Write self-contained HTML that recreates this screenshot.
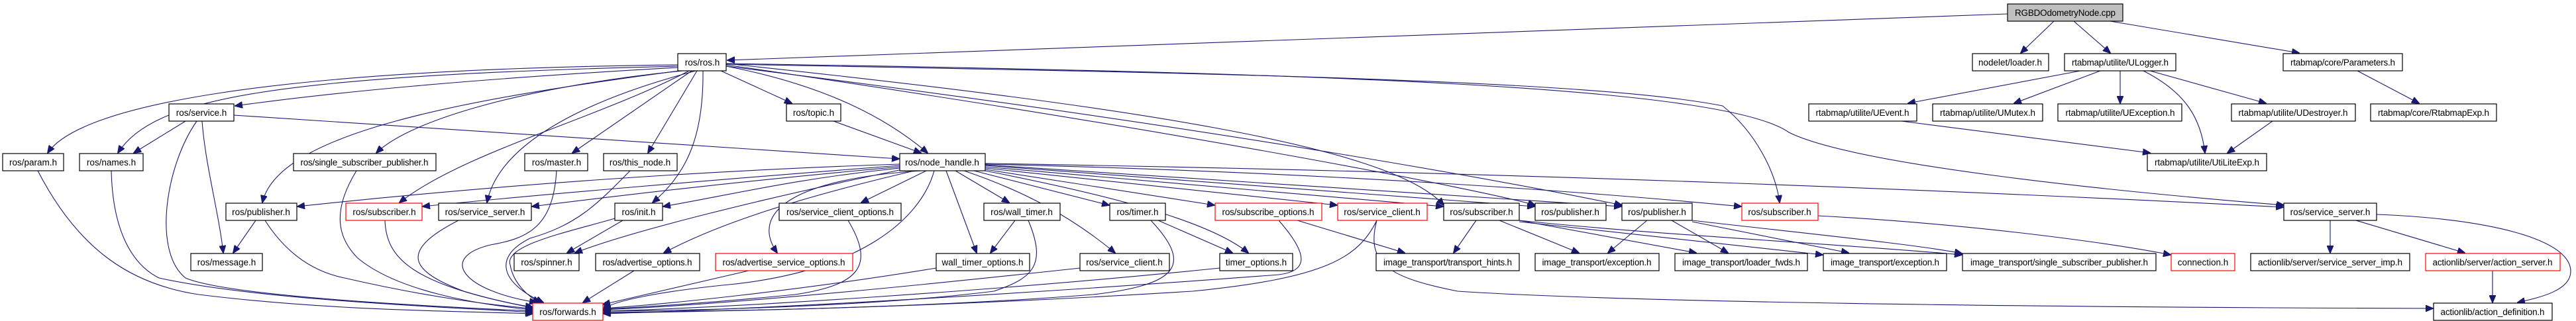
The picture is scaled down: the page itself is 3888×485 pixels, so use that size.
<!DOCTYPE html>
<html><head><meta charset="utf-8"><style>
html,body{margin:0;padding:0;background:#fff;}
svg{display:block;}
text{font-family:"Liberation Sans",Arial,sans-serif;font-size:13.5px;fill:#000;text-anchor:middle;}
.n rect{fill:#fff;stroke:#000;stroke-width:1.2;}
.r rect{fill:#fff;stroke:#ff0000;stroke-width:1.2;}
.e path{fill:none;stroke:#191970;stroke-width:1.1;marker-end:url(#a);}
</style></head><body>
<svg width="3888" height="485" viewBox="0 0 3888 485" xmlns="http://www.w3.org/2000/svg">
<defs><marker id="a" markerUnits="userSpaceOnUse" markerWidth="12" markerHeight="10" refX="11" refY="5" orient="auto"><path d="M0,0 L12,5 L0,10 z" fill="#191970" stroke="#191970"/></marker></defs>
<g class="e">
<path d="M3030 21 L1098 91"/>
<path d="M3100 32 L3050 80"/>
<path d="M3130 32 L3185 80"/>
<path d="M3185 32 L3470 80"/>
<path d="M3140 107 L2880 156"/>
<path d="M3170 107 L3040 156"/>
<path d="M3200 107 L3200 156"/>
<path d="M3235 107 C3300 140 3322 180 3328 231"/>
<path d="M3245 107 L3420 156"/>
<path d="M2870 183 L3245 231"/>
<path d="M3430 183 L3362 231"/>
<path d="M3558 107 L3651 156"/>
<path d="M1023 98 C400 105 120 160 72 231"/>
<path d="M1023 100 C400 115 230 150 178 231"/>
<path d="M1023 102 C700 120 500 140 355 160"/>
<path d="M1030 107 C800 130 620 180 568 231"/>
<path d="M1025 107 C700 150 420 200 396 306"/>
<path d="M1040 107 C900 180 700 230 603 306"/>
<path d="M1050 107 C850 160 750 230 735 306"/>
<path d="M1044 107 L864 231"/>
<path d="M1052 107 L978 231"/>
<path d="M1061 107 C1062 200 1040 260 985 306"/>
<path d="M1088 107 L1195 156"/>
<path d="M1096 100 C1250 130 1340 180 1400 231"/>
<path d="M1096 96 C1700 160 2100 220 2179 310"/>
<path d="M1096 98 C1800 200 2250 290 2317 310"/>
<path d="M1096 100 C1900 200 2350 290 2448 310"/>
<path d="M1096 97 C1800 110 2400 120 2600 160 C2650 200 2680 260 2686 306"/>
<path d="M1096 96 C2000 110 2600 130 2700 200 C2800 250 3200 290 3447 310"/>
<path d="M280 183 L202 231"/>
<path d="M305 183 C310 250 330 320 337 382"/>
<path d="M297 183 C250 250 230 380 280 420 C350 450 700 465 804 470"/>
<path d="M353 174 L1357 240"/>
<path d="M57 258 C120 380 200 430 300 445 C500 470 700 470 804 474"/>
<path d="M168 258 C170 350 200 400 240 420 C400 455 700 465 804 472"/>
<path d="M538 258 C500 320 510 360 540 390 C600 440 720 460 804 468"/>
<path d="M386 333 L352 382"/>
<path d="M400 333 C430 380 470 410 520 420 C650 450 750 462 804 466"/>
<path d="M581 333 C583 390 620 430 804 465"/>
<path d="M692 333 C600 380 620 410 700 440 C750 455 790 462 804 464"/>
<path d="M840 258 C835 340 800 360 740 370 C660 390 700 440 810 457"/>
<path d="M951 258 C900 310 870 340 800 360 C740 390 760 430 820 457"/>
<path d="M928 330 C860 350 760 370 770 400 C775 430 800 450 815 457"/>
<path d="M940 333 L856 382"/>
<path d="M1258 183 L1390 231"/>
<path d="M1358 248 C1000 260 700 285 449 312"/>
<path d="M1358 250 C1100 270 800 295 638 312"/>
<path d="M1358 252 C1100 275 900 300 803 312"/>
<path d="M1358 254 C1200 270 1100 295 1001 312"/>
<path d="M1362 256 C1150 300 950 350 868 382"/>
<path d="M1380 258 C1200 300 1080 340 1002 382"/>
<path d="M1390 258 C1200 270 1130 320 1173 382"/>
<path d="M1398 258 L1300 306"/>
<path d="M1410 258 C1390 330 1300 410 1100 430 C1000 440 920 455 911 468"/>
<path d="M1428 258 L1474 382"/>
<path d="M1442 258 L1523 306"/>
<path d="M1455 258 C1550 290 1620 330 1683 382"/>
<path d="M1470 258 L1674 310"/>
<path d="M1487 258 C1650 290 1820 330 1884 382"/>
<path d="M1487 256 L1833 310"/>
<path d="M1487 254 L2018 310"/>
<path d="M1487 252 L2178 312"/>
<path d="M1487 250 L2316 312"/>
<path d="M1487 249 L2447 312"/>
<path d="M1487 248 C2000 260 2400 290 2628 312"/>
<path d="M1487 247 C2300 260 3000 290 3446 313"/>
<path d="M957 409 L880 457"/>
<path d="M1130 409 L910 460"/>
<path d="M1280 333 C1320 400 1300 430 1200 445 C1050 460 950 465 911 467"/>
<path d="M1532 333 L1495 382"/>
<path d="M1552 333 C1580 400 1560 420 1500 440 C1300 465 1000 470 911 470"/>
<path d="M1413 405 C1200 440 1000 460 911 466"/>
<path d="M1630 405 C1400 430 1100 460 911 468"/>
<path d="M1737 333 C1800 400 1780 430 1650 445 C1400 465 1100 470 911 472"/>
<path d="M1748 333 L1860 382"/>
<path d="M1841 405 C1500 440 1100 465 911 470"/>
<path d="M1930 333 C1980 390 1970 410 1930 415 C1600 440 1200 465 911 474"/>
<path d="M1958 333 L2120 382"/>
<path d="M2078 333 C2060 400 2100 420 2200 440 C2500 460 3300 465 3672 466"/>
<path d="M2078 333 C2050 390 2000 420 1800 440 C1400 465 1100 470 911 473"/>
<path d="M2228 333 L2194 382"/>
<path d="M2263 333 L2383 382"/>
<path d="M2293 333 L2560 382"/>
<path d="M2293 335 L2751 385"/>
<path d="M2293 333 C2500 355 2800 370 2961 385"/>
<path d="M2486 333 L2427 382"/>
<path d="M2523 333 L2608 382"/>
<path d="M2554 335 L2790 382"/>
<path d="M2554 333 C2700 350 2900 370 2961 383"/>
<path d="M2744 326 C3000 340 3200 370 3276 385"/>
<path d="M3517 333 L3517 382"/>
<path d="M3556 333 L3720 382"/>
<path d="M3587 324 C3750 330 3880 360 3880 410 C3880 440 3830 450 3800 457"/>
<path d="M3762 409 L3762 457"/>
</g>
<g class="n"><rect x="3030" y="6" width="174" height="26" style="fill:#bfbfbf"/><text x="3117" y="24" textLength="152">RGBDOdometryNode.cpp</text></g>
<g class="n"><rect x="1023" y="81" width="73" height="26"/><text x="1060" y="99">ros/ros.h</text></g>
<g class="n"><rect x="2977" y="81" width="115" height="26"/><text x="3034" y="99">nodelet/loader.h</text></g>
<g class="n"><rect x="3116" y="81" width="168" height="26"/><text x="3200" y="99" textLength="146">rtabmap/utilite/ULogger.h</text></g>
<g class="n"><rect x="3446" y="81" width="180" height="26"/><text x="3536" y="99" textLength="158">rtabmap/core/Parameters.h</text></g>
<g class="n"><rect x="255" y="157" width="98" height="26"/><text x="304" y="175">ros/service.h</text></g>
<g class="n"><rect x="1187" y="157" width="82" height="26"/><text x="1228" y="175">ros/topic.h</text></g>
<g class="n"><rect x="2730" y="157" width="163" height="26"/><text x="2811" y="175" textLength="141">rtabmap/utilite/UEvent.h</text></g>
<g class="n"><rect x="2917" y="157" width="166" height="26"/><text x="3000" y="175" textLength="144">rtabmap/utilite/UMutex.h</text></g>
<g class="n"><rect x="3106" y="157" width="187" height="26"/><text x="3200" y="175" textLength="165">rtabmap/utilite/UException.h</text></g>
<g class="n"><rect x="3368" y="157" width="187" height="26"/><text x="3461" y="175" textLength="165">rtabmap/utilite/UDestroyer.h</text></g>
<g class="n"><rect x="3578" y="157" width="190" height="26"/><text x="3673" y="175" textLength="168">rtabmap/core/RtabmapExp.h</text></g>
<g class="n"><rect x="4" y="232" width="92" height="26"/><text x="50" y="250">ros/param.h</text></g>
<g class="n"><rect x="120" y="232" width="96" height="26"/><text x="168" y="250">ros/names.h</text></g>
<g class="n"><rect x="443" y="232" width="215" height="26"/><text x="550" y="250" textLength="193">ros/single_subscriber_publisher.h</text></g>
<g class="n"><rect x="792" y="232" width="95" height="26"/><text x="840" y="250">ros/master.h</text></g>
<g class="n"><rect x="911" y="232" width="111" height="26"/><text x="966" y="250">ros/this_node.h</text></g>
<g class="n"><rect x="1358" y="232" width="129" height="26"/><text x="1422" y="250">ros/node_handle.h</text></g>
<g class="n"><rect x="3241" y="232" width="180" height="26"/><text x="3331" y="250" textLength="158">rtabmap/utilite/UtiLiteExp.h</text></g>
<g class="n"><rect x="341" y="307" width="107" height="26"/><text x="394" y="325">ros/publisher.h</text></g>
<g class="r"><rect x="522" y="307" width="115" height="26"/><text x="580" y="325">ros/subscriber.h</text></g>
<g class="n"><rect x="662" y="307" width="140" height="26"/><text x="732" y="325">ros/service_server.h</text></g>
<g class="n"><rect x="928" y="307" width="72" height="26"/><text x="964" y="325">ros/init.h</text></g>
<g class="n"><rect x="1176" y="307" width="184" height="26"/><text x="1268" y="325" textLength="162">ros/service_client_options.h</text></g>
<g class="n"><rect x="1485" y="307" width="115" height="26"/><text x="1542" y="325">ros/wall_timer.h</text></g>
<g class="n"><rect x="1675" y="307" width="84" height="26"/><text x="1717" y="325">ros/timer.h</text></g>
<g class="r"><rect x="1834" y="307" width="161" height="26"/><text x="1914" y="325" textLength="139">ros/subscribe_options.h</text></g>
<g class="r"><rect x="2019" y="307" width="135" height="26"/><text x="2086" y="325">ros/service_client.h</text></g>
<g class="n"><rect x="2179" y="307" width="114" height="26"/><text x="2236" y="325">ros/subscriber.h</text></g>
<g class="n"><rect x="2317" y="307" width="107" height="26"/><text x="2370" y="325">ros/publisher.h</text></g>
<g class="n"><rect x="2448" y="307" width="106" height="26"/><text x="2501" y="325">ros/publisher.h</text></g>
<g class="r"><rect x="2629" y="307" width="115" height="26"/><text x="2686" y="325">ros/subscriber.h</text></g>
<g class="n"><rect x="3447" y="307" width="140" height="26"/><text x="3517" y="325">ros/service_server.h</text></g>
<g class="n"><rect x="288" y="383" width="108" height="26"/><text x="342" y="401">ros/message.h</text></g>
<g class="n"><rect x="776" y="383" width="98" height="26"/><text x="825" y="401">ros/spinner.h</text></g>
<g class="n"><rect x="899" y="383" width="157" height="26"/><text x="977" y="401" textLength="135">ros/advertise_options.h</text></g>
<g class="r"><rect x="1080" y="383" width="207" height="26"/><text x="1183" y="401" textLength="185">ros/advertise_service_options.h</text></g>
<g class="n"><rect x="1413" y="383" width="141" height="26"/><text x="1483" y="401">wall_timer_options.h</text></g>
<g class="n"><rect x="1630" y="383" width="135" height="26"/><text x="1697" y="401">ros/service_client.h</text></g>
<g class="n"><rect x="1841" y="383" width="110" height="26"/><text x="1896" y="401">timer_options.h</text></g>
<g class="n"><rect x="2077" y="383" width="216" height="26"/><text x="2185" y="401" textLength="194">image_transport/transport_hints.h</text></g>
<g class="n"><rect x="2317" y="383" width="187" height="26"/><text x="2410" y="401" textLength="165">image_transport/exception.h</text></g>
<g class="n"><rect x="2528" y="383" width="200" height="26"/><text x="2628" y="401" textLength="178">image_transport/loader_fwds.h</text></g>
<g class="n"><rect x="2752" y="383" width="186" height="26"/><text x="2845" y="401" textLength="164">image_transport/exception.h</text></g>
<g class="n"><rect x="2962" y="383" width="292" height="26"/><text x="3108" y="401" textLength="268">image_transport/single_subscriber_publisher.h</text></g>
<g class="r"><rect x="3277" y="383" width="96" height="26"/><text x="3325" y="401">connection.h</text></g>
<g class="n"><rect x="3397" y="383" width="240" height="26"/><text x="3517" y="401" textLength="218">actionlib/server/service_server_imp.h</text></g>
<g class="r"><rect x="3661" y="383" width="203" height="26"/><text x="3762" y="401" textLength="181">actionlib/server/action_server.h</text></g>
<g class="r"><rect x="804" y="458" width="106" height="26"/><text x="857" y="476">ros/forwards.h</text></g>
<g class="n"><rect x="3673" y="458" width="179" height="26"/><text x="3762" y="476" textLength="157">actionlib/action_definition.h</text></g>
</svg>
</body></html>
